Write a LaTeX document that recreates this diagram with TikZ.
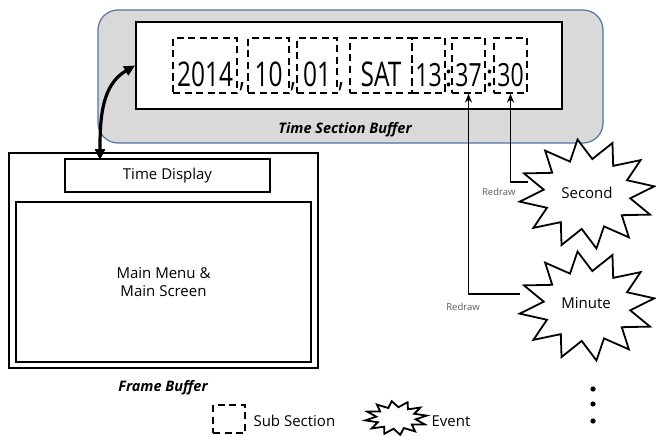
\documentclass[tikz,border=0pt]{standalone}
\usepackage{fontspec}
\setmainfont{Open Sans}
\newfontfamily\clockfont[FakeStretch=0.72]{Open Sans}
\usetikzlibrary{arrows.meta}

\definecolor{bufgray}{RGB}{217,217,217}
\definecolor{bufblue}{RGB}{84,114,160}
\definecolor{notegray}{RGB}{90,90,90}

% burst outline: centre, x radius, y radius
\newcommand\burst[3]{%
  \begin{scope}[shift={(#1)}]
    \draw[line width=1.8pt, line join=miter, fill=white]
      plot[samples at={0,15,...,345}]
      ({#2*(1-0.36*mod(\x/15,2))*cos(\x+8)},{#3*(1-0.36*mod(\x/15,2))*sin(\x+8)}) -- cycle;
  \end{scope}}

\tikzset{
  box/.style={draw, line width=1.8pt, inner sep=0pt},
  subsec/.style={draw, line width=1.3pt, dash pattern=on 7pt off 4.5pt, inner sep=0pt, minimum height=55pt},
  clocktxt/.style={anchor=base, inner sep=0pt, font=\clockfont\fontsize{34}{34}\selectfont},
  smalltxt/.style={clocktxt, font=\clockfont\fontsize{32}{32}\selectfont},
  punct/.style={anchor=base, inner sep=0pt, font=\fontsize{30}{30}\selectfont},
  title/.style={font=\bfseries\itshape\fontsize{14.5}{14.5}\selectfont},
  plain/.style={font=\fontsize{15}{18}\selectfont},
  note/.style={font=\fontsize{9.5}{10}\selectfont, text=notegray},
  redraw/.style={-{Stealth[length=9pt, width=7pt]}, line width=1.6pt},
}

\begin{document}
\begin{tikzpicture}[x=1pt,y=1pt]
  \useasboundingbox (0,0) rectangle (656,-436);

  % time section buffer
  \node[draw=bufblue, line width=1.2pt, fill=bufgray, rounded corners=20pt,
        minimum width=505pt, minimum height=133pt] (tsb) at (350.5,-76.5) {};
  \node[box, fill=white, minimum width=426pt, minimum height=87pt] (clock) at (349,-65.5) {};
  \node[title] (tsblabel) at (345,-130) {Time Section Buffer};

  % sub sections
  \foreach \name/\cx/\w/\txt in {yr/205/64/2014, mon/268.5/41/10, day/317/40/01, wday/381/62/SAT}{
    \node[subsec, minimum width=\w pt] (\name) at (\cx,-65.5) {};
    \node[clocktxt] (\name-t) at (\cx,-87) {\txt};
  }
  \foreach \name/\cx/\w/\txt in {hr/428.5/33/13, mnt/468.5/33/37, sec/510.5/33/30}{
    \node[subsec, minimum width=\w pt] (\name) at (\cx,-65.5) {};
    \node[smalltxt] (\name-t) at (\cx,-87) {\txt};
  }
  \foreach \name/\cx in {c1/242, c2/293, c3/341}
    \node[clocktxt] (\name) at (\cx,-87) {,};
  \foreach \name/\cx in {k1/448.5, k2/489.5}
    \node[punct] (\name) at (\cx,-86) {{:}};

  % frame buffer
  \node[box, minimum width=309pt, minimum height=215pt] (fb) at (163.5,-260.5) {};
  \node[box, plain, minimum width=205pt, minimum height=33pt] (tdisp) at (167.5,-175.5) {Time Display};
  \node[box, plain, align=center, minimum width=295pt, minimum height=160pt] (menu) at (163.5,-282) {Main Menu \&\\Main Screen};
  \node[title] (fblabel) at (163,-388) {Frame Buffer};

  % link between buffers
  \coordinate (tdtop) at (100,-160);
  \draw[{Triangle[length=11pt, width=10pt]}-{Triangle[length=11pt, width=10pt]}, line width=3.2pt]
    (tdtop) to[out=90, in=210] (clock.west);

  % events
  \burst{587,-194}{68}{55}
  \node[plain] (second) at (587,-193) {Second};
  \burst{587,-306}{68}{55}
  \node[plain] (minute) at (586,-303) {Minute};

  \coordinate (secin) at (528,-182);
  \coordinate (minin) at (520,-294);
  \draw[redraw] (secin) -| (sec.south);
  \draw[redraw] (minin) -| (mnt.south);
  \node[note, anchor=east] (rd1) at (519,-192) {Redraw};
  \node[note] (rd2) at (463,-307) {Redraw};

  % legend
  \node[subsec, minimum width=32pt, minimum height=28pt] (legsub) at (229,-419) {};
  \node[plain, anchor=west] (legsubt) at (250,-421) {Sub Section};
  \burst{396,-418}{31}{17}
  \node[plain, anchor=west] (legevt) at (428,-421) {Event};

  % more events
  \foreach \yy [count=\i] in {389,404,421}
    \fill (593,-\yy) circle (2.6pt);
\end{tikzpicture}
\end{document}
